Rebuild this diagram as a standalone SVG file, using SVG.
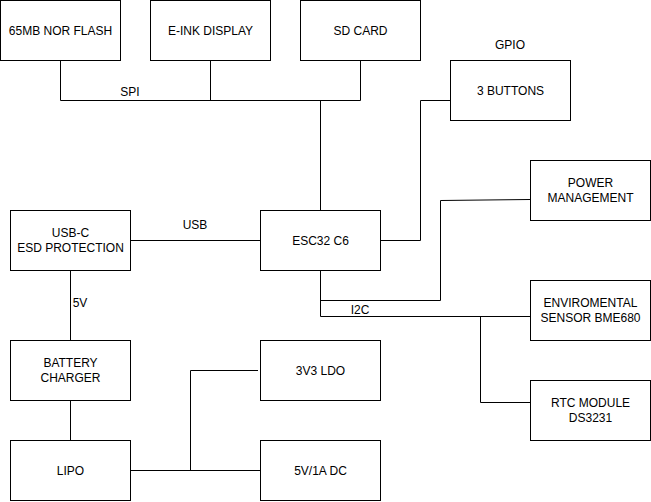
<svg xmlns="http://www.w3.org/2000/svg" width="651" height="502" viewBox="0 0 651 502">
<style>
.n rect{fill:#fff;stroke:#000;stroke-width:1}
text{font-family:"Liberation Sans",Arial,sans-serif;font-size:12px;fill:#000;text-anchor:middle;dominant-baseline:central}
.c path{fill:none;stroke:#000;stroke-width:1}
</style>
<rect width="651" height="502" fill="#fff"/>
<g class="c" id="connectors">
<path d="M60.5 60V100.5H360.5V60"/>
<path d="M210.5 60V100.5"/>
<path d="M320.5 210V100.5"/>
<path d="M380 240.5H420.5V100.5H450"/>
<path d="M320.5 270V316.5H530"/>
<path d="M320.5 300.5H440.5V200.5L530 199.5"/>
<path d="M480.5 316.5V402.5H530"/>
<path d="M130 240.5H260"/>
<path d="M70.5 270V340"/>
<path d="M70.5 400V440"/>
<path d="M130 470.5H260"/>
<path d="M190.5 470.5V370.5H258"/>
<text x="130" y="92">SPI</text>
<text x="510" y="45">GPIO</text>
<text x="195" y="225">USB</text>
<text x="80" y="303">5V</text>
<text x="360" y="310">I2C</text>
</g>
<g class="n" id="nor"><rect x="0.5" y="0.5" width="120" height="60"/><text x="60.5" y="30.5">65MB NOR FLASH</text></g>
<g class="n" id="eink"><rect x="150.5" y="0.5" width="120" height="60"/><text x="210.5" y="30.5">E-INK DISPLAY</text></g>
<g class="n" id="sd"><rect x="300.5" y="0.5" width="120" height="60"/><text x="360.5" y="30.5">SD CARD</text></g>
<g class="n" id="buttons"><rect x="450.5" y="60.5" width="120" height="60"/><text x="510.5" y="90.5">3 BUTTONS</text></g>
<g class="n" id="power"><rect x="530.5" y="160.5" width="120" height="60"/><text x="590.5" y="183">POWER</text><text x="590.5" y="198">MANAGEMENT</text></g>
<g class="n" id="usbc"><rect x="10.5" y="210.5" width="120" height="60"/><text x="70.5" y="233">USB-C</text><text x="70.5" y="248">ESD PROTECTION</text></g>
<g class="n" id="esp"><rect x="260.5" y="210.5" width="120" height="60"/><text x="320.5" y="240.5">ESC32 C6</text></g>
<g class="n" id="env"><rect x="530.5" y="280.5" width="120" height="60"/><text x="590.5" y="303">ENVIROMENTAL</text><text x="590.5" y="318">SENSOR BME680</text></g>
<g class="n" id="rtc"><rect x="530.5" y="380.5" width="120" height="60"/><text x="590.5" y="403">RTC MODULE</text><text x="590.5" y="418">DS3231</text></g>
<g class="n" id="charger"><rect x="10.5" y="340.5" width="120" height="60"/><text x="70.5" y="363">BATTERY</text><text x="70.5" y="378">CHARGER</text></g>
<g class="n" id="lipo"><rect x="10.5" y="440.5" width="120" height="60"/><text x="70.5" y="470.5">LIPO</text></g>
<g class="n" id="ldo"><rect x="260.5" y="340.5" width="120" height="60"/><text x="320.5" y="370.5">3V3 LDO</text></g>
<g class="n" id="dc"><rect x="260.5" y="440.5" width="120" height="60"/><text x="320.5" y="470.5">5V/1A DC</text></g>
</svg>
